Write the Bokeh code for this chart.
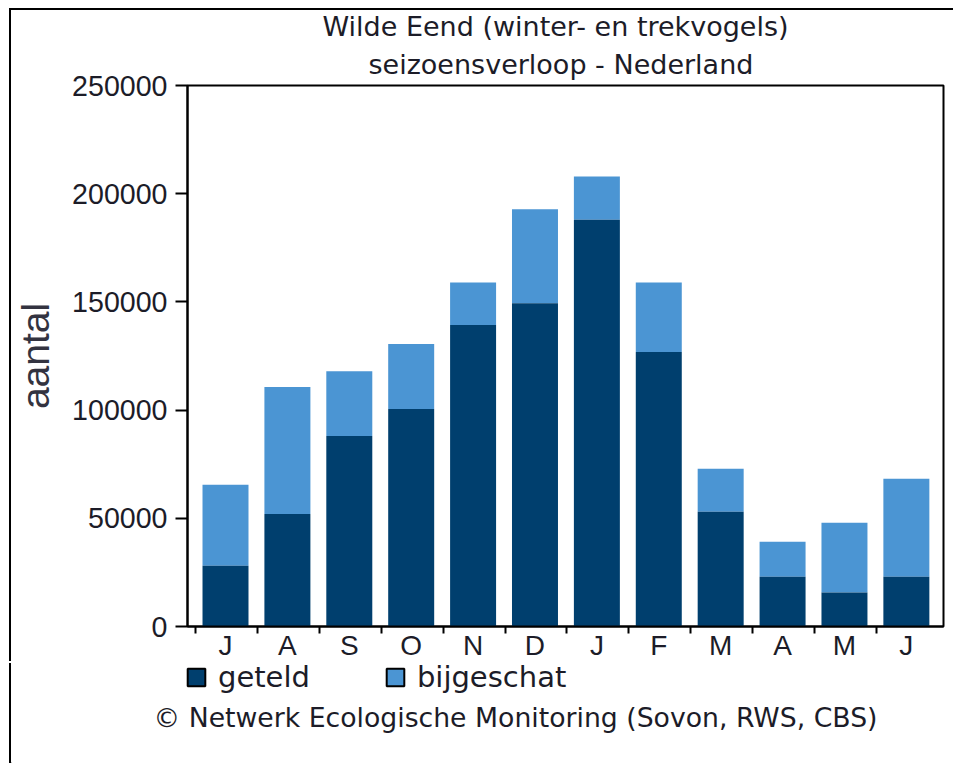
from bokeh.plotting import figure
from bokeh.models import (ColumnDataSource, Range1d, FixedTicker, Title, Legend, LegendItem, Label)
from bokeh.embed import file_html
from bokeh.resources import INLINE

months = ["J", "A", "S", "O", "N", "D", "J", "F", "M", "A", "M", "J"]
geteld = [28100, 52000, 88000, 100500, 139300, 149400, 188000, 126800, 53000, 23000, 15700, 23000]
totaal = [65500, 110700, 118000, 130500, 159000, 192800, 208000, 159000, 72900, 39200, 48000, 68300]
y_ticks = [0, 50000, 100000, 150000, 200000, 250000]
title_lines = ["Wilde Eend (winter- en trekvogels)", "seizoensverloop - Nederland"]
legend_labels = ["geteld", "bijgeschat"]
credit = "© Netwerk Ecologische Monitoring (Sovon, RWS, CBS)"

DARK = "#003f6e"
LIGHT = "#4b95d3"
TEXT = "#1c1c28"
SANS = "Liberation Sans"
VERD = "DejaVu Sans"

W, H, H2 = 944, 653, 100
FL, FT, FW, FH = 176, 74, 756, 542

idx = list(range(len(months)))
src = ColumnDataSource(dict(x=idx, g=geteld, t=totaal))

p = figure(width=W, height=H, output_backend="svg", toolbar_location=None,
           x_range=Range1d(-0.614, 11.6), y_range=Range1d(0, 250000),
           min_border_left=FL, min_border_top=FT, min_border_right=W-FL-FW,
           min_border_bottom=H-FT-FH, title=None)
p.margin = (10, 0, 0, 11)
p.styles = {"box-shadow": "-2px -2px 0 0 black"}
p.grid.visible = False
p.outline_line_color = "black"
p.outline_line_width = 2

p.vbar(x="x", width=0.743, bottom="g", top="t", source=src, fill_color=LIGHT, line_color=None)
p.vbar(x="x", width=0.743, bottom=0, top="g", source=src, fill_color=DARK, line_color=None)

xa = p.xaxis[0]
xa.ticker = FixedTicker(ticks=idx, minor_ticks=[i - 0.484 for i in idx])
xa.major_label_overrides = {i: m for i, m in zip(idx, months)}
xa.major_tick_line_color = None
xa.major_tick_in = 0
xa.major_tick_out = 0
xa.minor_tick_in = 0
xa.minor_tick_out = 7
xa.minor_tick_line_color = "black"
xa.minor_tick_line_width = 2
xa.axis_line_color = "black"
xa.axis_line_width = 2
xa.major_label_standoff = -4
xa.major_label_text_font = SANS
xa.major_label_text_font_size = "28px"
xa.major_label_text_color = TEXT

ya = p.yaxis[0]
ya.ticker = FixedTicker(ticks=y_ticks)
ya.formatter.use_scientific = False
ya.major_tick_in = 0
ya.major_tick_out = 12
ya.major_tick_line_width = 2
ya.major_tick_line_color = "black"
ya.minor_tick_line_color = None
ya.axis_line_width = 2
ya.axis_line_color = "black"
ya.major_label_standoff = 8
ya.major_label_text_font = SANS
ya.major_label_text_font_size = "28.6px"
ya.major_label_text_color = TEXT
ya.axis_label = "aantal"
ya.axis_label_text_font = SANS
ya.axis_label_text_font_style = "normal"
ya.axis_label_text_font_size = "39px"
ya.axis_label_text_line_height = 1.0
ya.axis_label_text_color = "#333340"
ya.axis_label_standoff = 12

def title(s, offset, size, standoff):
    p.add_layout(Title(text=s, align="left", offset=offset, standoff=standoff, text_font=VERD,
                       text_font_size=size, text_font_style="normal", text_color=TEXT), "above")

title(title_lines[1], 181, "27px", 12)
title(title_lines[0], 135, "27px", -3)

# second figure: legend and credit under the chart
q = figure(width=W, height=H2, output_backend="svg", toolbar_location=None,
           x_range=Range1d(0, 1), y_range=Range1d(0, 1),
           min_border_left=0, min_border_top=0, min_border_right=0, min_border_bottom=0,
           title=None, x_axis_location=None, y_axis_location=None)
q.margin = (0, 0, 0, 11)
q.styles = {"box-shadow": "-2px 0 0 0 black"}
q.grid.visible = False
q.outline_line_color = None
s1 = q.vbar(x=[-100], width=1, top=[0], fill_color=DARK, line_color="black", line_width=2)
s2 = q.vbar(x=[-100], width=1, top=[0], fill_color=LIGHT, line_color="black", line_width=2)
leg = Legend(items=[LegendItem(label=legend_labels[0], renderers=[s1]),
                    LegendItem(label=legend_labels[1], renderers=[s2])],
             orientation="horizontal", location=(174, 69), background_fill_alpha=0,
             border_line_color=None, glyph_width=22, glyph_height=22, label_standoff=11,
             spacing=74, padding=0, margin=0,
             label_text_font=VERD, label_text_font_size="29px", label_text_color=TEXT)
q.add_layout(leg, "center")
q.add_layout(Label(x=142, y=46, x_units="screen", y_units="screen", text=credit, text_font=VERD,
                   text_font_size="26.7px", text_color=TEXT, text_baseline="middle"))

open("out.html", "w").write(file_html((p, q), INLINE))
